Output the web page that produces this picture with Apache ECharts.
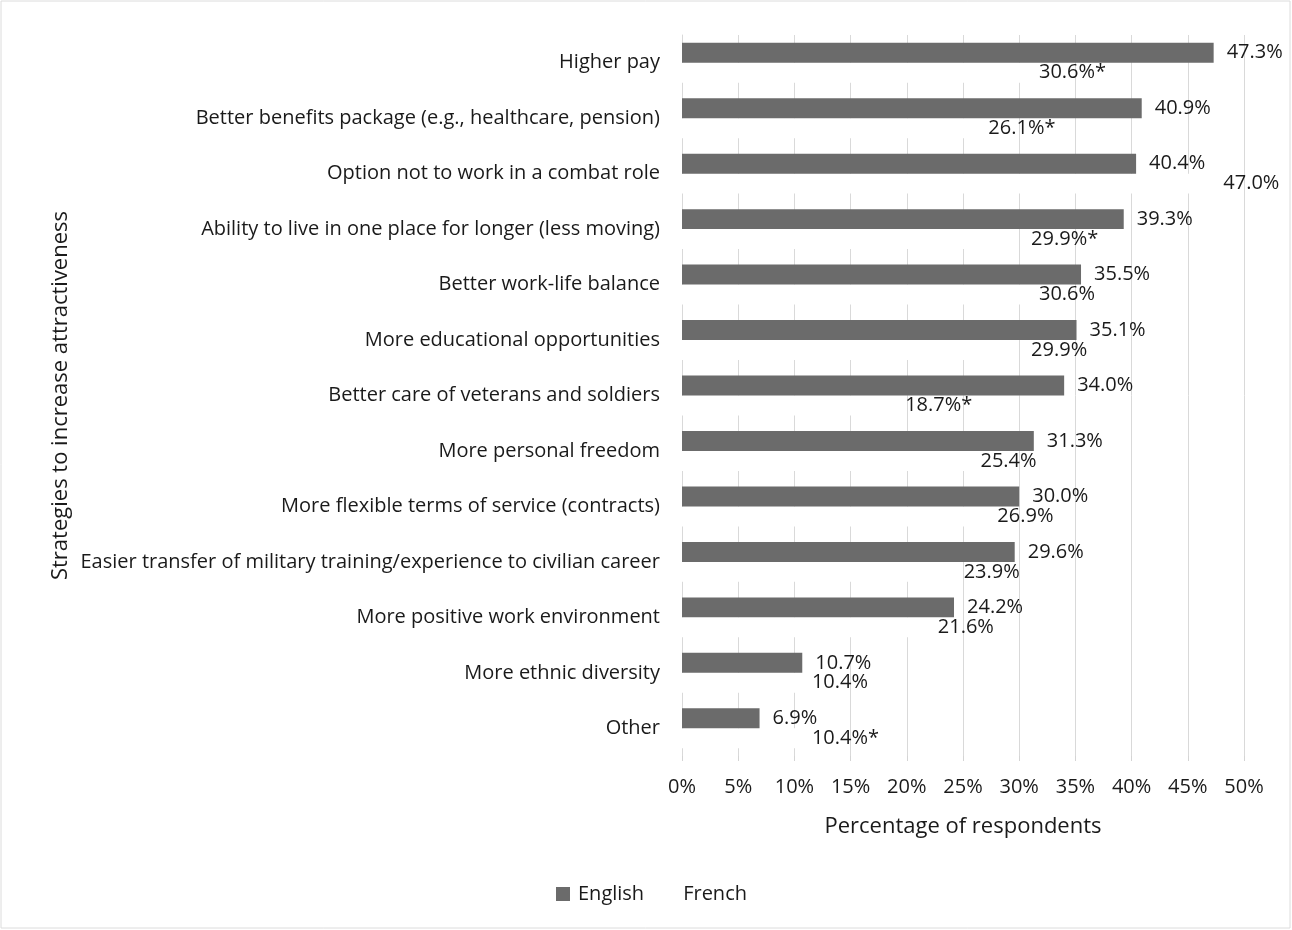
<!DOCTYPE html>
<html>
<head>
<meta charset="utf-8">
<script src="https://cdn.jsdelivr.net/npm/echarts@6/dist/echarts.min.js"></script>
<style>
  html, body { margin: 0; padding: 0; background: #ffffff; }
  #chart { width: 1292px; height: 930px; }
</style>
</head>
<body>
<div id="chart"></div>
<script>
// Strategies that would make military service more attractive, by survey language
const categories = [
  'Higher pay',
  'Better benefits package (e.g., healthcare, pension)',
  'Option not to work in a combat role',
  'Ability to live in one place for longer (less moving)',
  'Better work-life balance',
  'More educational opportunities',
  'Better care of veterans and soldiers',
  'More personal freedom',
  'More flexible terms of service (contracts)',
  'Easier transfer of military training/experience to civilian career',
  'More positive work environment',
  'More ethnic diversity',
  'Other'
];
const english = [47.3, 40.9, 40.4, 39.3, 35.5, 35.1, 34.0, 31.3, 30.0, 29.6, 24.2, 10.7, 6.9];
const french  = [30.6, 26.1, 47.0, 29.9, 30.6, 29.9, 18.7, 25.4, 26.9, 23.9, 21.6, 10.4, 10.4];
// statistically significant difference between groups (marked with *)
const frenchSignificant = [true, true, false, true, false, false, true, false, false, false, false, false, true];
const xTicks = [0, 5, 10, 15, 20, 25, 30, 35, 40, 45, 50];

const FONT = '"Open Sans"';
const TEXT = '#1a1a1a';
const SIZE = 20;
const TITLE_SIZE = 22;

const chart = echarts.init(document.getElementById('chart'), null, { renderer: 'canvas' });

chart.setOption({
  backgroundColor: '#ffffff',
  animation: false,
  textStyle: { fontFamily: FONT, color: TEXT },
  graphic: [{
    type: 'rect',
    shape: { x: 1, y: 1, width: 1289, height: 927 },
    style: { fill: null, stroke: '#dcdcdc', lineWidth: 1 },
    silent: true,
    z: -1
  }],
  legend: {
    bottom: 21,
    left: 551,
    itemWidth: 14,
    itemHeight: 14,
    itemGap: 17,
    icon: 'rect',
    textStyle: { fontFamily: FONT, fontSize: SIZE, color: TEXT, padding: [0, 0, 0, 3] },
    data: ['English', 'French']
  },
  grid: { left: 682, right: 48, top: 35, bottom: 174, containLabel: false },
  xAxis: {
    type: 'value',
    min: xTicks[0],
    max: xTicks[xTicks.length - 1],
    interval: 5,
    name: 'Percentage of respondents',
    nameLocation: 'middle',
    nameGap: 60,
    nameTextStyle: { fontFamily: FONT, fontSize: TITLE_SIZE, color: TEXT },
    axisLine: { show: false },
    axisTick: { show: true, length: 5, lineStyle: { color: '#d4d4d4' } },
    axisLabel: {
      margin: 21,
      fontFamily: FONT, fontSize: SIZE, color: TEXT,
      formatter: v => v + '%'
    },
    splitLine: { show: true, lineStyle: { color: '#d9d9d9', width: 1 } }
  },
  yAxis: {
    type: 'category',
    inverse: true,
    data: categories,
    name: 'Strategies to increase attractiveness',
    nameLocation: 'middle',
    nameGap: 610,
    nameRotate: 90,
    nameTextStyle: { fontFamily: FONT, fontSize: TITLE_SIZE, color: TEXT },
    axisLine: { show: true, lineStyle: { color: '#d9d9d9' } },
    axisTick: { show: false },
    axisLabel: { margin: 22, fontFamily: FONT, fontSize: SIZE, color: TEXT }
  },
  series: [
    {
      name: 'English',
      type: 'bar',
      data: english,
      barGap: '0%',
      barCategoryGap: '28%',
      itemStyle: { color: '#6b6b6b' },
      label: {
        show: true,
        position: 'right',
        distance: 13,
        fontFamily: FONT, fontSize: SIZE, color: TEXT,
        formatter: p => p.value.toFixed(1) + '%'
      },
      z: 3
    },
    {
      name: 'French',
      type: 'bar',
      data: french,
      itemStyle: { color: '#ffffff' },
      label: {
        show: true,
        position: 'right',
        distance: 13,
        fontFamily: FONT, fontSize: SIZE, color: TEXT,
        formatter: p => p.value.toFixed(1) + '%' + (frenchSignificant[p.dataIndex] ? '*' : '')
      },
      z: 2
    }
  ]
});
</script>
</body>
</html>
